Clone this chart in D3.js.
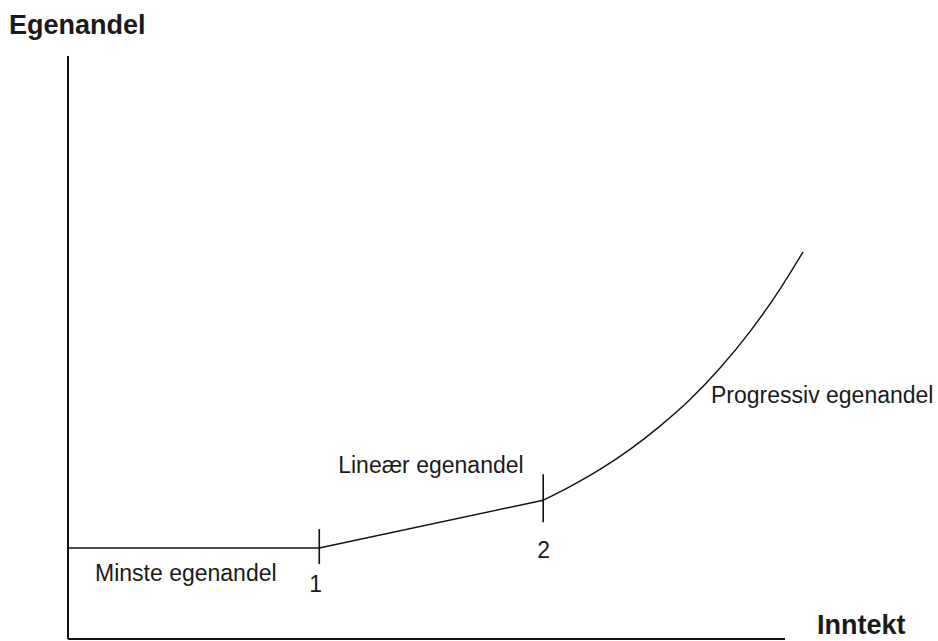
<!DOCTYPE html>
<html>
<head>
<meta charset="utf-8">
<script src="https://cdn.jsdelivr.net/npm/d3@7"></script>
<style>
  html, body { margin: 0; padding: 0; background: #fff; }
  svg { display: block; }
  text { font-family: "Liberation Sans", Arial, sans-serif; fill: #1a1a1a; }
</style>
</head>
<body>
<svg id="chart" width="938" height="641"></svg>
<script>
// ---- data (abstract units) ----
const yTitle = "Egenandel";
const xTitle = "Inntekt";
const segmentLabels = ["Minste egenandel", "Lineær egenandel", "Progressiv egenandel"];
const breakpointLabels = ["1", "2"];
const breakpointX = [3.49, 6.6];
const minsteY = 1.56;          // flat minimum share
const linearEndY = 2.38;       // share at breakpoint 2
const progressiveX = [6.6, 6.972, 7.389, 7.806, 8.222, 8.639, 9.056, 9.472, 9.889, 10.208];
const progressiveY = [2.38, 2.614, 2.909, 3.252, 3.651, 4.106, 4.648, 5.273, 6.003, 6.638];
const xDomain = [0, 10];
const yDomain = [0, 10];

// ---- scales ----
const svg = d3.select("#chart");
const x = d3.scaleLinear().domain(xDomain).range([68, 788]);
const y = d3.scaleLinear().domain(yDomain).range([639, 56]);

// axes (plain lines, no ticks)
svg.append("line")
  .attr("x1", x(0)).attr("x2", x(0))
  .attr("y1", y(0)).attr("y2", y(yDomain[1]))
  .attr("stroke", "#111").attr("stroke-width", 2);
svg.append("line")
  .attr("x1", x(0)).attr("x2", x(xDomain[1]) - 3)
  .attr("y1", y(0)).attr("y2", y(0))
  .attr("stroke", "#111").attr("stroke-width", 2);

// flat + linear segments
const line = d3.line().x(d => x(d[0])).y(d => y(d[1]));
const flatLinear = [[0, minsteY], [breakpointX[0], minsteY], [breakpointX[1], linearEndY]];
svg.append("path")
  .attr("d", line(flatLinear))
  .attr("fill", "none").attr("stroke", "#111").attr("stroke-width", 1.5);

// progressive curve
const prog = progressiveX.map((v, i) => [v, progressiveY[i]]);
svg.append("path")
  .attr("d", d3.line().x(d => x(d[0])).y(d => y(d[1])).curve(d3.curveMonotoneX)(prog))
  .attr("fill", "none").attr("stroke", "#111").attr("stroke-width", 1.4);

// breakpoint ticks
const bpY = [minsteY, linearEndY];
const tickExt = [[19, 16], [26, 22]];
breakpointX.forEach((bx, i) => {
  svg.append("line")
    .attr("x1", x(bx)).attr("x2", x(bx))
    .attr("y1", y(bpY[i]) - tickExt[i][0]).attr("y2", y(bpY[i]) + tickExt[i][1])
    .attr("stroke", "#111").attr("stroke-width", 1.6);
});

// breakpoint numbers
const numOffset = [[-10, 44], [-6, 58]];
breakpointLabels.forEach((t, i) => {
  svg.append("text")
    .attr("x", x(breakpointX[i]) + numOffset[i][0])
    .attr("y", y(bpY[i]) + numOffset[i][1])
    .attr("font-size", 23)
    .text(t);
});

// segment labels
svg.append("text").attr("x", x(0) + 27).attr("y", y(minsteY) + 33)
  .attr("font-size", 23).text(segmentLabels[0]);
svg.append("text").attr("x", x(breakpointX[1]) - 205).attr("y", y(linearEndY) - 27)
  .attr("font-size", 23).text(segmentLabels[1]);
svg.append("text").attr("x", 711).attr("y", 403)
  .attr("font-size", 23).text(segmentLabels[2]);

// axis titles
svg.append("text").attr("x", 9).attr("y", 34)
  .attr("font-size", 27).attr("font-weight", "bold").text(yTitle);
svg.append("text").attr("x", 817).attr("y", 634)
  .attr("font-size", 27).attr("font-weight", "bold").text(xTitle);
</script>
</body>
</html>
